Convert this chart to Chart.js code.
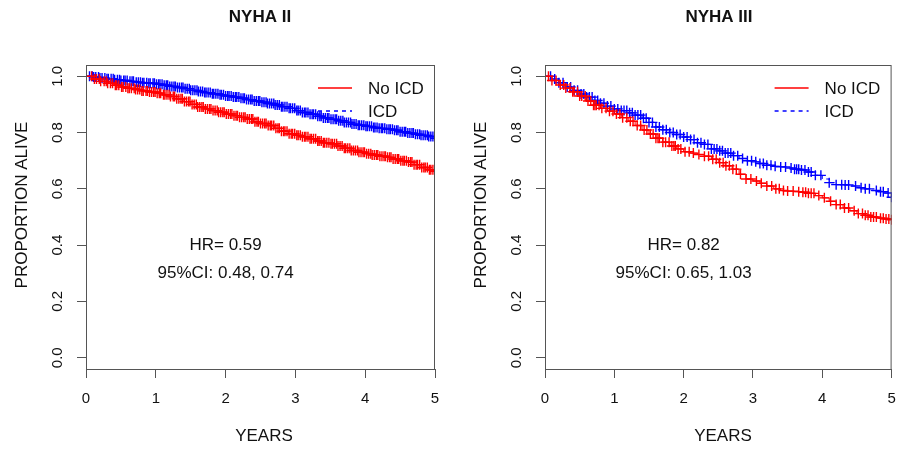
<!DOCTYPE html>
<html>
<head>
<meta charset="utf-8">
<script src="https://cdn.jsdelivr.net/npm/chart.js@4.4.0/dist/chart.umd.min.js"></script>
<style>
  html, body { margin: 0; padding: 0; background: #fff; }
  #wrap { position: relative; width: 898px; height: 450px; }
  canvas { position: absolute; top: 0; }
</style>
</head>
<body>
<div id="wrap">
  <canvas id="nyha2" width="449" height="450" style="left:0"></canvas>
  <canvas id="nyha3" width="449" height="450" style="left:449px"></canvas>
</div>
<script>
// knot times (years) for the survival curves
var years = [0, 0.1, 0.2, 0.3, 0.4, 0.5, 0.6, 0.7, 0.8, 0.9,
             1.0, 1.1, 1.2, 1.3, 1.4, 1.5, 1.6, 1.7, 1.8, 1.9,
             2.0, 2.1, 2.2, 2.3, 2.4, 2.5, 2.6, 2.7, 2.8, 2.9,
             3.0, 3.1, 3.2, 3.3, 3.4, 3.5, 3.6, 3.7, 3.8, 3.9,
             4.0, 4.1, 4.2, 4.3, 4.4, 4.5, 4.6, 4.7, 4.8, 4.9, 5.0];

// NYHA II
var nyha2NoIcd = [1.0, 0.99, 0.982, 0.975, 0.968, 0.962, 0.957, 0.953, 0.948, 0.944,
                  0.94, 0.934, 0.928, 0.92, 0.91, 0.9, 0.891, 0.884, 0.878, 0.872,
                  0.866, 0.86, 0.854, 0.848, 0.838, 0.832, 0.825, 0.815, 0.805, 0.796,
                  0.79, 0.785, 0.778, 0.77, 0.764, 0.76, 0.752, 0.744, 0.736, 0.73,
                  0.725, 0.72, 0.716, 0.712, 0.706, 0.7, 0.695, 0.686, 0.676, 0.668, 0.662];
var nyha2Icd = [1.0, 0.997, 0.994, 0.991, 0.988, 0.985, 0.982, 0.979, 0.977, 0.975,
                0.972, 0.968, 0.964, 0.96, 0.956, 0.95, 0.946, 0.942, 0.938, 0.934,
                0.93, 0.926, 0.922, 0.917, 0.912, 0.908, 0.903, 0.898, 0.892, 0.886,
                0.878, 0.871, 0.865, 0.858, 0.852, 0.847, 0.842, 0.836, 0.83, 0.826,
                0.822, 0.818, 0.815, 0.812, 0.808, 0.803, 0.798, 0.794, 0.79, 0.786, 0.78];
var nyha2NoIcdCensor = [0.08, 0.12, 0.15, 0.19, 0.21, 0.26, 0.29, 0.31, 0.35, 0.38, 0.42, 0.44, 0.47,
                        0.51, 0.53, 0.57, 0.6, 0.62, 0.65, 0.69, 0.71, 0.74, 0.77, 0.8, 0.82, 0.86,
                        0.88, 0.91, 0.94, 0.97, 0.99, 1.02, 1.05, 1.07, 1.11, 1.13, 1.16, 1.19, 1.21,
                        1.25, 1.27, 1.3, 1.33, 1.36, 1.38, 1.41, 1.44, 1.47, 1.49, 1.52, 1.55, 1.58,
                        1.6, 1.63, 1.66, 1.68, 1.71, 1.74, 1.77, 1.79, 1.82, 1.85, 1.88, 1.9, 1.93,
                        1.96, 1.98, 2.01, 2.04, 2.07, 2.09, 2.12, 2.15, 2.17, 2.2, 2.23, 2.26, 2.28,
                        2.31, 2.34, 2.37, 2.39, 2.42, 2.45, 2.47, 2.5, 2.53, 2.56, 2.58, 2.61, 2.64,
                        2.66, 2.69, 2.72, 2.75, 2.77, 2.8, 2.83, 2.85, 2.88, 2.91, 2.94, 2.96, 2.99,
                        3.02, 3.04, 3.07, 3.1, 3.13, 3.15, 3.18, 3.21, 3.23, 3.26, 3.29, 3.32, 3.34,
                        3.37, 3.4, 3.42, 3.45, 3.48, 3.51, 3.53, 3.56, 3.59, 3.61, 3.64, 3.67, 3.7,
                        3.72, 3.75, 3.78, 3.8, 3.83, 3.86, 3.89, 3.91, 3.94, 3.97, 3.99, 4.02, 4.05,
                        4.08, 4.1, 4.13, 4.16, 4.18, 4.21, 4.24, 4.27, 4.29, 4.32, 4.35, 4.37, 4.4,
                        4.43, 4.46, 4.48, 4.51, 4.54, 4.56, 4.59, 4.62, 4.65, 4.67, 4.7, 4.73, 4.75,
                        4.78, 4.81, 4.84, 4.86, 4.89, 4.92, 4.94, 4.97, 5.0];
var nyha2IcdCensor = [0.05, 0.09, 0.11, 0.14, 0.18, 0.2, 0.23, 0.27, 0.3, 0.32, 0.36, 0.39, 0.41, 0.45,
                      0.48, 0.5, 0.54, 0.56, 0.59, 0.63, 0.66, 0.68, 0.72, 0.75, 0.78, 0.81, 0.83,
                      0.87, 0.9, 0.92, 0.96, 0.98, 1.01, 1.04, 1.06, 1.09, 1.12, 1.15, 1.17, 1.2,
                      1.23, 1.26, 1.28, 1.31, 1.34, 1.37, 1.39, 1.42, 1.45, 1.48, 1.5, 1.53, 1.56,
                      1.59, 1.61, 1.64, 1.67, 1.7, 1.72, 1.75, 1.78, 1.81, 1.83, 1.86, 1.89, 1.92,
                      1.94, 1.97, 2.0, 2.03, 2.05, 2.08, 2.11, 2.14, 2.16, 2.19, 2.22, 2.25, 2.27,
                      2.3, 2.33, 2.36, 2.38, 2.41, 2.44, 2.47, 2.49, 2.52, 2.55, 2.58, 2.6, 2.63,
                      2.66, 2.69, 2.71, 2.74, 2.77, 2.8, 2.82, 2.85, 2.88, 2.91, 2.93, 2.96, 2.99,
                      3.02, 3.04, 3.07, 3.1, 3.13, 3.15, 3.18, 3.21, 3.24, 3.26, 3.29, 3.32, 3.35,
                      3.37, 3.4, 3.43, 3.46, 3.48, 3.51, 3.54, 3.57, 3.59, 3.62, 3.65, 3.68, 3.7,
                      3.73, 3.76, 3.79, 3.81, 3.84, 3.87, 3.9, 3.92, 3.95, 3.98, 4.01, 4.03, 4.06,
                      4.09, 4.12, 4.14, 4.17, 4.2, 4.23, 4.25, 4.28, 4.31, 4.34, 4.36, 4.39, 4.42,
                      4.45, 4.47, 4.5, 4.53, 4.56, 4.58, 4.61, 4.64, 4.67, 4.69, 4.72, 4.75, 4.78,
                      4.8, 4.83, 4.86, 4.89, 4.91, 4.94, 4.97, 5.0];

// NYHA III
var nyha3NoIcd = [1.0, 0.985, 0.969, 0.958, 0.945, 0.93, 0.912, 0.897, 0.886, 0.876,
                  0.866, 0.853, 0.84, 0.825, 0.809, 0.795, 0.78, 0.766, 0.752, 0.742,
                  0.732, 0.727, 0.722, 0.716, 0.705, 0.693, 0.682, 0.67, 0.652, 0.635,
                  0.628, 0.62, 0.61, 0.6, 0.594, 0.592, 0.59, 0.588, 0.584, 0.576,
                  0.568, 0.556, 0.544, 0.532, 0.522, 0.512, 0.506, 0.5, 0.496, 0.493, 0.49];
var nyha3Icd = [1.0, 0.99, 0.977, 0.962, 0.95, 0.937, 0.926, 0.914, 0.904, 0.894,
                0.884, 0.878, 0.87, 0.862, 0.851, 0.836, 0.82, 0.81, 0.8, 0.793,
                0.784, 0.775, 0.764, 0.758, 0.742, 0.735, 0.727, 0.718, 0.708, 0.7,
                0.696, 0.69, 0.684, 0.68, 0.678, 0.674, 0.67, 0.667, 0.66, 0.648,
                0.635, 0.622, 0.615, 0.614, 0.61, 0.604, 0.6, 0.594, 0.59, 0.585, 0.57];
var nyha3NoIcdCensor = [0.05, 0.1, 0.16, 0.22, 0.27, 0.3, 0.36, 0.4, 0.42, 0.47, 0.5, 0.53, 0.58, 0.62,
                        0.66, 0.7, 0.72, 0.74, 0.78, 0.82, 0.88, 0.93, 0.98, 1.03, 1.08, 1.12, 1.18,
                        1.23, 1.27, 1.33, 1.38, 1.43, 1.47, 1.52, 1.56, 1.6, 1.63, 1.65, 1.7, 1.74,
                        1.79, 1.83, 1.86, 1.88, 1.92, 1.96, 2.02, 2.08, 2.14, 2.22, 2.3, 2.36, 2.42,
                        2.47, 2.52, 2.57, 2.61, 2.66, 2.71, 2.76, 2.82, 2.9, 2.97, 3.05, 3.12, 3.2,
                        3.27, 3.33, 3.38, 3.44, 3.5, 3.58, 3.66, 3.72, 3.76, 3.8, 3.84, 3.88, 3.95,
                        4.03, 4.12, 4.2, 4.26, 4.32, 4.38, 4.46, 4.52, 4.58, 4.62, 4.66, 4.7, 4.74,
                        4.78, 4.84, 4.88, 4.92, 4.96, 5.0];
var nyha3IcdCensor = [0.08, 0.14, 0.2, 0.26, 0.32, 0.37, 0.42, 0.47, 0.52, 0.56, 0.6, 0.64, 0.68, 0.72,
                      0.76, 0.8, 0.85, 0.9, 0.95, 1.0, 1.05, 1.1, 1.14, 1.18, 1.22, 1.26, 1.3, 1.34,
                      1.38, 1.42, 1.46, 1.5, 1.55, 1.6, 1.65, 1.7, 1.75, 1.8, 1.85, 1.9, 1.95, 2.0,
                      2.05, 2.1, 2.15, 2.2, 2.25, 2.3, 2.35, 2.4, 2.44, 2.48, 2.52, 2.56, 2.6, 2.64,
                      2.68, 2.72, 2.78, 2.85, 2.92, 2.98, 3.04, 3.1, 3.15, 3.2, 3.26, 3.32, 3.4,
                      3.47, 3.55, 3.6, 3.63, 3.66, 3.7, 3.75, 3.8, 3.84, 3.9, 3.98, 4.1, 4.2, 4.28,
                      4.33, 4.38, 4.48, 4.56, 4.62, 4.68, 4.78, 4.84, 4.88, 4.95, 5.0];

var seriesLabels = ['No ICD', 'ICD'];
var xTicks = [0, 1, 2, 3, 4, 5];
var yTicks = [0, 0.2, 0.4, 0.6, 0.8, 1.0];

var RED = 'rgb(255, 0, 0)';
var BLUE = 'rgb(0, 0, 255)';
var FONT = '"Liberation Sans", Arial, Helvetica, sans-serif';

// value of the step curve at time t (last knot at or before t)
function survAt(surv, t) {
    var s = surv[0];
    for (var i = 0; i < years.length; i++) {
        if (years[i] <= t + 1e-9) s = surv[i];
    }
    return s;
}

function curve(surv) {
    return years.map((t, i) => ({ x: t, y: surv[i] }));
}

function marks(surv, times) {
    return times.map(t => ({ x: t, y: survAt(surv, t) }));
}

function makePanel(id, p) {
    var textPlugin = {
        id: 'kmText',
        afterDraw: function (chart) {
            var ctx = chart.ctx;
            var a = chart.chartArea;
            var xs = chart.scales.x, ys = chart.scales.y;
            ctx.save();

            // box around plot region
            ctx.strokeStyle = '#555';
            ctx.lineWidth = 1;
            ctx.strokeRect(a.left + 0.5, a.top + 0.5, a.right - a.left - 1, a.bottom - a.top);

            ctx.fillStyle = '#111';
            ctx.textAlign = 'center';
            ctx.textBaseline = 'middle';

            // title
            ctx.font = 'bold 17px ' + FONT;
            ctx.fillText(p.title, a.left + 174, 17);

            // x tick labels
            ctx.font = '15px ' + FONT;
            xTicks.forEach(v => ctx.fillText(String(v), xs.getPixelForValue(v), 399));

            // y tick labels, rotated
            yTicks.forEach(v => {
                ctx.save();
                ctx.translate(a.left - 28.5, ys.getPixelForValue(v));
                ctx.rotate(-Math.PI / 2);
                ctx.fillText(v.toFixed(1), 0, 0);
                ctx.restore();
            });

            // axis titles
            ctx.font = '17px ' + FONT;
            ctx.fillText('YEARS', a.left + 178, 436);
            ctx.save();
            ctx.translate(a.left - 64, 205);
            ctx.rotate(-Math.PI / 2);
            ctx.fillText('PROPORTION ALIVE', 0, 0);
            ctx.restore();

            // hazard ratio text
            ctx.fillText(p.hr, xs.getPixelForValue(2), ys.getPixelForValue(0.4));
            ctx.fillText(p.ci, xs.getPixelForValue(2), ys.getPixelForValue(0.3));

            // legend
            var lx = a.right - 117;
            ctx.lineWidth = 1.3;
            [RED, BLUE].forEach((c, i) => {
                var ly = a.top + 23 + i * 23;
                ctx.strokeStyle = c;
                ctx.setLineDash(i === 1 ? [4, 4] : []);
                ctx.beginPath();
                ctx.moveTo(lx, ly);
                ctx.lineTo(lx + 34, ly);
                ctx.stroke();
                ctx.textAlign = 'left';
                ctx.fillText(seriesLabels[i], lx + 50, ly + 1);
            });
            ctx.restore();
        }
    };

    var ctx = document.getElementById(id).getContext('2d');
    new Chart(ctx, {
        type: 'scatter',
        data: {
            datasets: [{
                label: seriesLabels[0],
                data: curve(p.noIcd),
                showLine: true,
                stepped: true,
                borderColor: RED,
                borderWidth: 1,
                pointRadius: 0
            }, {
                label: seriesLabels[0] + ' censored',
                data: marks(p.noIcd, p.noIcdCensor),
                showLine: false,
                pointStyle: 'cross',
                pointRadius: 5,
                borderColor: RED,
                backgroundColor: RED,
                borderWidth: 1.4
            }, {
                label: seriesLabels[1],
                data: curve(p.icd),
                showLine: true,
                stepped: true,
                borderColor: BLUE,
                borderDash: [4, 4],
                borderWidth: 1,
                pointRadius: 0
            }, {
                label: seriesLabels[1] + ' censored',
                data: marks(p.icd, p.icdCensor),
                showLine: false,
                pointStyle: 'cross',
                pointRadius: 5,
                borderColor: BLUE,
                backgroundColor: BLUE,
                borderWidth: 1.4
            }]
        },
        options: {
            responsive: false,
            animation: false,
            events: [],
            layout: { padding: { top: 65, right: p.padRight, bottom: 0, left: 0 } },
            plugins: {
                legend: { display: false },
                tooltip: { enabled: false }
            },
            scales: {
                x: {
                    type: 'linear',
                    min: 0,
                    max: 5,
                    afterBuildTicks: function (scale) {
                        scale.ticks = xTicks.map(v => ({ value: v }));
                    },
                    afterFit: function (scale) { scale.height = 81; },
                    ticks: { display: false },
                    grid: { drawOnChartArea: false, drawTicks: true, tickLength: 9, color: '#555' },
                    border: { display: true, color: '#555' }
                },
                y: {
                    min: -0.04,
                    max: 1.04,
                    afterBuildTicks: function (scale) {
                        scale.ticks = yTicks.map(v => ({ value: v }));
                    },
                    afterFit: function (scale) { scale.width = p.yWidth; },
                    ticks: { display: false },
                    grid: { drawOnChartArea: false, drawTicks: true, tickLength: 9, color: '#555' },
                    border: { display: true, color: '#555' }
                }
            }
        },
        plugins: [textPlugin]
    });
}

makePanel('nyha2', {
    title: 'NYHA II',
    noIcd: nyha2NoIcd, icd: nyha2Icd,
    noIcdCensor: nyha2NoIcdCensor, icdCensor: nyha2IcdCensor,
    hr: 'HR= 0.59', ci: '95%CI: 0.48, 0.74',
    yWidth: 86, padRight: 14
});

makePanel('nyha3', {
    title: 'NYHA III',
    noIcd: nyha3NoIcd, icd: nyha3Icd,
    noIcdCensor: nyha3NoIcdCensor, icdCensor: nyha3IcdCensor,
    hr: 'HR= 0.82', ci: '95%CI: 0.65, 1.03',
    yWidth: 96, padRight: 5
});
</script>
</body>
</html>
